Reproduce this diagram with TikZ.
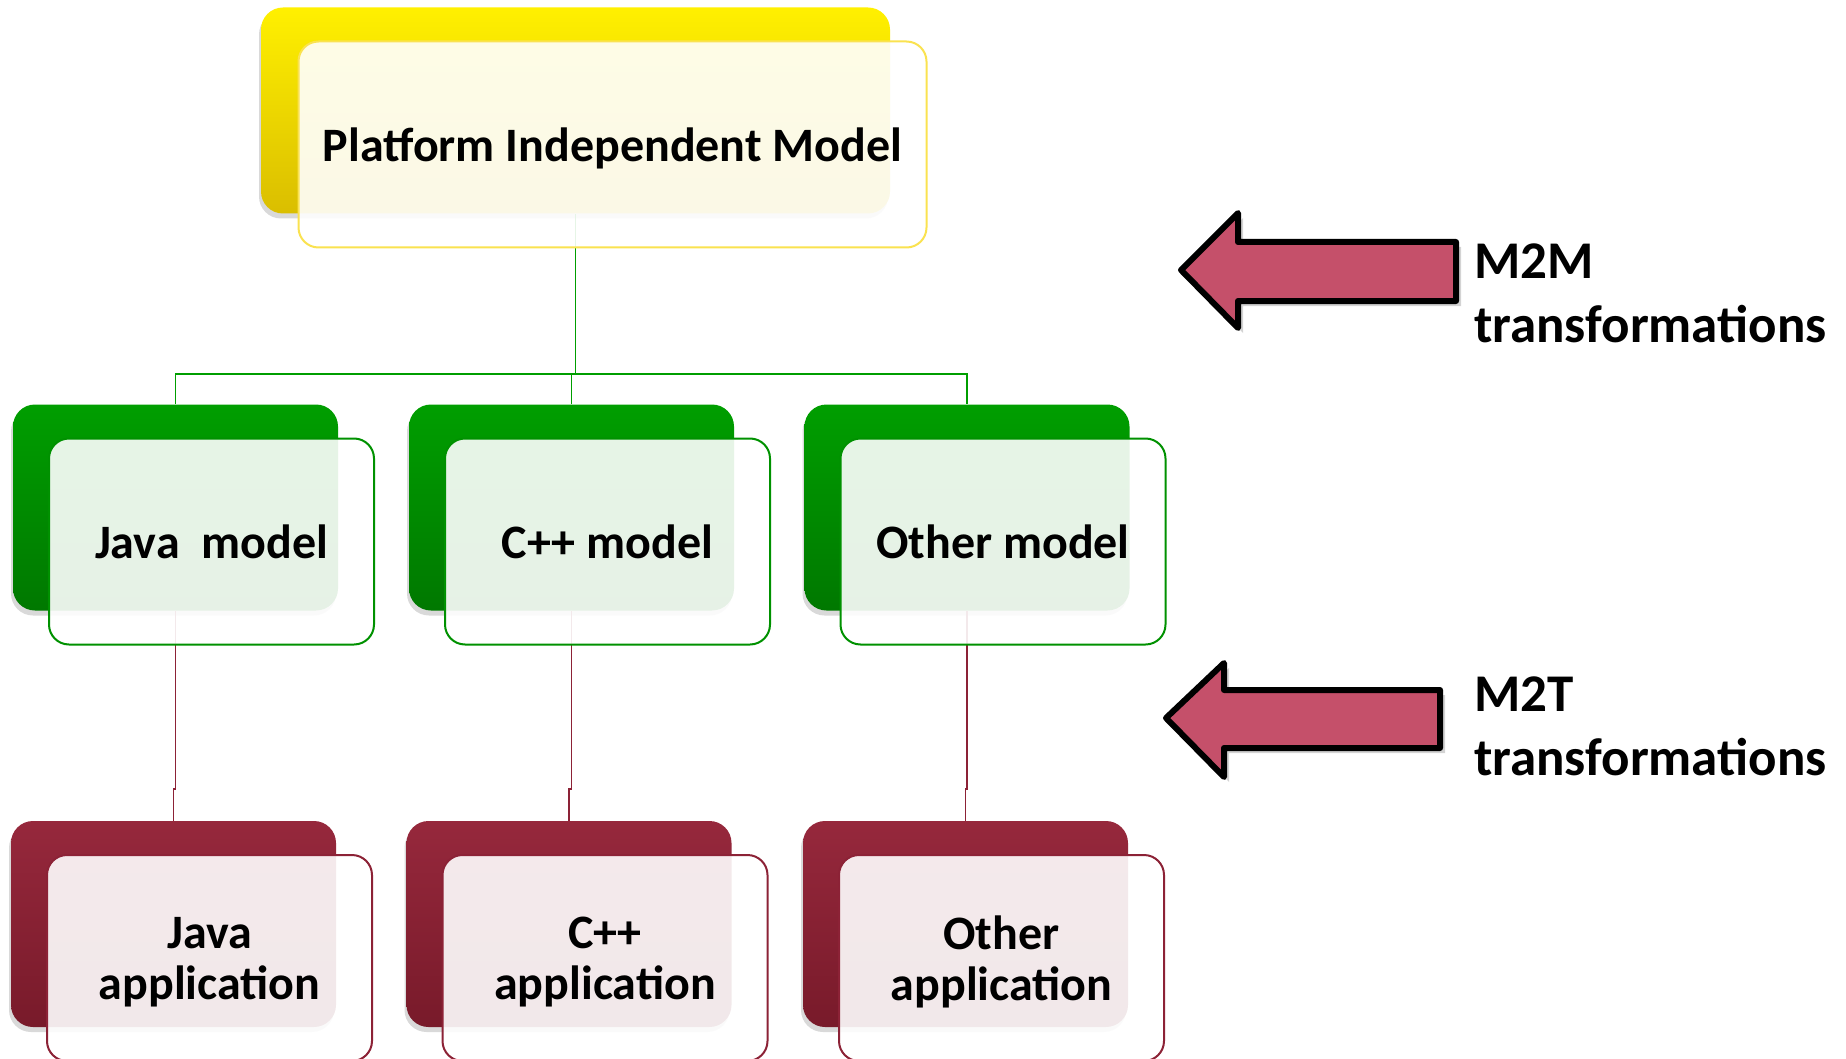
\documentclass[tikz,border=0pt]{standalone}
\usepackage{fontspec}
\setmainfont{Carlito}
\usetikzlibrary{shadows}

\definecolor{pimTop}{RGB}{255,240,0}
\definecolor{pimBot}{RGB}{218,190,0}
\definecolor{pimLine}{RGB}{250,226,80}
\definecolor{modTop}{RGB}{0,158,0}
\definecolor{modBot}{RGB}{0,120,0}
\definecolor{modLine}{RGB}{0,145,0}
\definecolor{appTop}{RGB}{150,40,60}
\definecolor{appBot}{RGB}{120,26,42}
\definecolor{appLine}{RGB}{140,34,54}
\definecolor{arrowRed}{RGB}{197,80,106}

\begin{document}
\begin{tikzpicture}[x=1pt, y=-1pt,
        backbox/.style={rounded corners=22pt, minimum width=325pt, minimum height=206pt,
          inner sep=0pt, drop shadow={shadow xshift=-2pt, shadow yshift=-5pt, opacity=0.3}},
        frontbox/.style={draw, line width=2pt, rounded corners=20pt, minimum width=325pt,
          minimum height=206pt, fill=white, fill opacity=0.9, text opacity=1, align=center,
          text depth=0pt, font=\bfseries\fontsize{48}{51}\selectfont},
        pimB/.style={backbox, top color=pimTop, bottom color=pimBot, minimum width=629pt},
        modB/.style={backbox, top color=modTop, bottom color=modBot},
        appB/.style={backbox, top color=appTop, bottom color=appBot},
        bigarrow/.style={draw=black, line width=6pt, line join=round, fill=arrowRed,
          drop shadow={shadow xshift=5pt, shadow yshift=-5pt, opacity=0.35}},
        lbl/.style={anchor=west, align=left, inner sep=0pt,
          font=\bfseries\fontsize{53}{64}\selectfont}
      ]
      \useasboundingbox (0,0) rectangle (1846,1059);

      % back boxes
      \node [pimB] (pimBk) at (575.5,110.5) {};
      \node [modB] (javaBk) at (175.5,507.5) {};
      \node [modB] (cppBk) at (571.5,507.5) {};
      \node [modB] (otherBk) at (967,507.5) {};
      \node [appB] (javaAppBk) at (173.5,924) {};
      \node [appB] (cppAppBk) at (569,924) {};
      \node [appB] (otherAppBk) at (965.5,924) {};

      % connectors
      \coordinate (bus) at (0,374);
      \draw [modTop, line width=1.5pt] (pimBk.south) -- (pimBk.south |- bus);
      \draw [modTop, line width=1.5pt] (javaBk.north) |- (otherBk.north |- bus) -- (otherBk.north);
      \draw [modTop, line width=1.5pt] (cppBk.north) -- (cppBk.north |- bus);
      \foreach \m/\a in {javaBk/javaAppBk, cppBk/cppAppBk, otherBk/otherAppBk}
        \draw [appLine, line width=1.5pt] (\m.south) |- ([yshift=32pt]\a.north) -- (\a.north);

      % front boxes
      \node [frontbox, draw=pimLine, minimum width=628pt] (pim) at ([shift={(37,34)}]pimBk.center)
        {Platform Independent Model};
      \node [frontbox, draw=modLine] (java) at ([shift={(36,34)}]javaBk.center) {Java~~model};
      \node [frontbox, draw=modLine] (cpp) at ([shift={(36,34)}]cppBk.center) {C++ model};
      \node [frontbox, draw=modLine] (other) at ([shift={(36,34)}]otherBk.center) {Other model};
      \node [frontbox, draw=appLine] (javaApp) at ([shift={(36,34)}]javaAppBk.center) {Java\\application};
      \node [frontbox, draw=appLine] (cppApp) at ([shift={(36,34)}]cppAppBk.center) {C++\\application};
      \node [frontbox, draw=appLine] (otherApp) at ([shift={(36,34)}]otherAppBk.center) {Other\\application};

      % transformation arrows
      \draw [bigarrow] (1456,242) -- (1238,242) -- (1238,213) -- (1181,270)
        -- (1238,328) -- (1238,301) -- (1456,301) -- cycle;
      \draw [bigarrow] (1440,690) -- (1224,690) -- (1224,663) -- (1166,718)
        -- (1224,777) -- (1224,748) -- (1440,748) -- cycle;
      \node [lbl] (m2m) at (1474,293) {M2M\\transformations};
      \node [lbl] (m2t) at (1474,726) {M2T\\transformations};
    \end{tikzpicture}
\end{document}
